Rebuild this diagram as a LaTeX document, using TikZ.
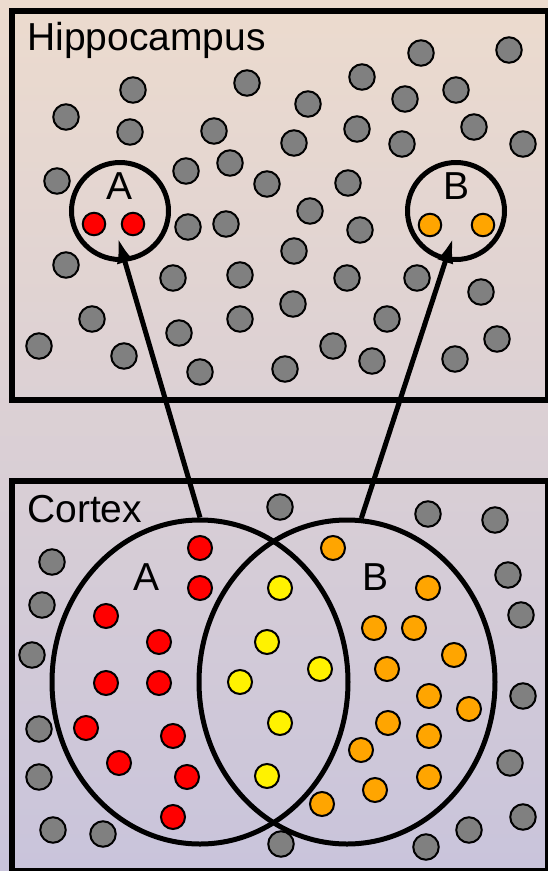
\documentclass[tikz,border=0pt]{standalone}
\usepackage{fontspec}
\setmainfont{Liberation Sans}
\usepackage{tikz}
\usetikzlibrary{calc}
\usetikzlibrary{shapes}
\usetikzlibrary{arrows.meta}
\usetikzlibrary{backgrounds}

\definecolor{bgtop}{RGB}{236,219,206}
\definecolor{bgmid}{RGB}{219,188,201}
\definecolor{bgbot}{RGB}{201,196,219}
\definecolor{cellgray}{RGB}{128,128,128}
\definecolor{cellorange}{RGB}{255,165,0}

\begin{document}
\begin{tikzpicture}[x=1pt,y=-1pt,
    box/.style={line width=6pt},
    gcell/.style={circle,draw=black,line width=2pt,fill=cellgray,minimum size=25.5pt,inner sep=0pt},
    ccell/.style={gcell,minimum size=24pt},
    scell/.style={gcell,minimum size=22.5pt},
    ring/.style={circle,draw=black,line width=5pt,minimum size=97pt,inner sep=0pt},
    field/.style={ellipse,draw=black,line width=5pt,minimum width=296pt,minimum height=324pt,inner sep=0pt},
    lbl/.style={font=\fontsize{39pt}{44pt}\selectfont,inner sep=0pt},
    link/.style={line width=5pt,-{Latex[length=25pt,width=17pt]}}]
        \clip (0,0) rectangle (548,871);
        \fill[top color=bgtop,middle color=bgmid,bottom color=bgbot] (0,0) rectangle (548,871);
        % hippocampus
        \draw[box] (12,11) rectangle (548,400);
        \node[lbl,anchor=base west] (hip) at (27,50) {Hippocampus};
        \foreach \x/\y [count=\i] in {421/53,509/50,133/90,247/83,362/77,405/99,456/90,308/104,
            66/117,130/132,214/131,294/143,357/129,402/144,474/127,523/144,57/181,186/171,
            230/163,267/184,348/183,188/227,226/224,310/211,360/230,66/265,294/251,173/278,
            240/275,347/278,417/278,481/292,92/319,240/319,293/304,387/319,39/346,124/356,
            179/333,200/372,285/369,333/346,372/361,455/359,497/339}
            \node[gcell] (h\i) at (\x,\y) {};
        \node[scell,fill=red] (hA1) at (94,224) {};
        \node[scell,fill=red] (hA2) at (133,224) {};
        \node[scell,fill=cellorange] (hB1) at (430,225) {};
        \node[scell,fill=cellorange] (hB2) at (483,225) {};
        \node[ring] (hipA) at (120,211) {};
        \node[ring] (hipB) at (456,211) {};
        \node[lbl,anchor=base] (labA) at (120,199) {A};
        \node[lbl,anchor=base] (labB) at (457,199) {B};
        % cortex
        \draw[box] (12,481) rectangle (548,871);
        \node[lbl,anchor=base west] (ctx) at (27,522) {Cortex};
        \node[field] (ctxA) at (200,682) {};
        \node[field] (ctxB) at (347,682) {};
        \node[lbl,anchor=base] (labCA) at (147,590) {A};
        \node[lbl,anchor=base] (labCB) at (376,590) {B};
        \foreach \x/\y [count=\i] in {280/507,428/514,495/520,52/562,508/575,42/605,521/615,
            32/655,523/696,39/729,510/763,39/777,523/817,53/830,103/834,281/844,469/830,426/847}
            \node[gcell] (c\i) at (\x,\y) {};
        \foreach \x/\y [count=\i] in {200/548,200/588,106/616,159/642,106/683,159/683,86/728,
            173/736,119/763,187/777,173/817}
            \node[ccell,fill=red] (r\i) at (\x,\y) {};
        \foreach \x/\y [count=\i] in {280/588,267/642,320/669,240/682,280/723,267/776}
            \node[ccell,fill=yellow] (y\i) at (\x,\y) {};
        \foreach \x/\y [count=\i] in {333/548,428/588,374/628,414/628,454/655,387/669,429/696,
            469/709,388/723,429/736,361/750,429/777,375/790,322/804}
            \node[ccell,fill=cellorange] (o\i) at (\x,\y) {};
        % links
        \coordinate (tipA) at (118,238);
        \coordinate (tipB) at (453,238);
        \draw[link] (ctxA.north) -- (tipA);
        \draw[link] (ctxB.85) -- (tipB);
    \end{tikzpicture}
\end{document}
